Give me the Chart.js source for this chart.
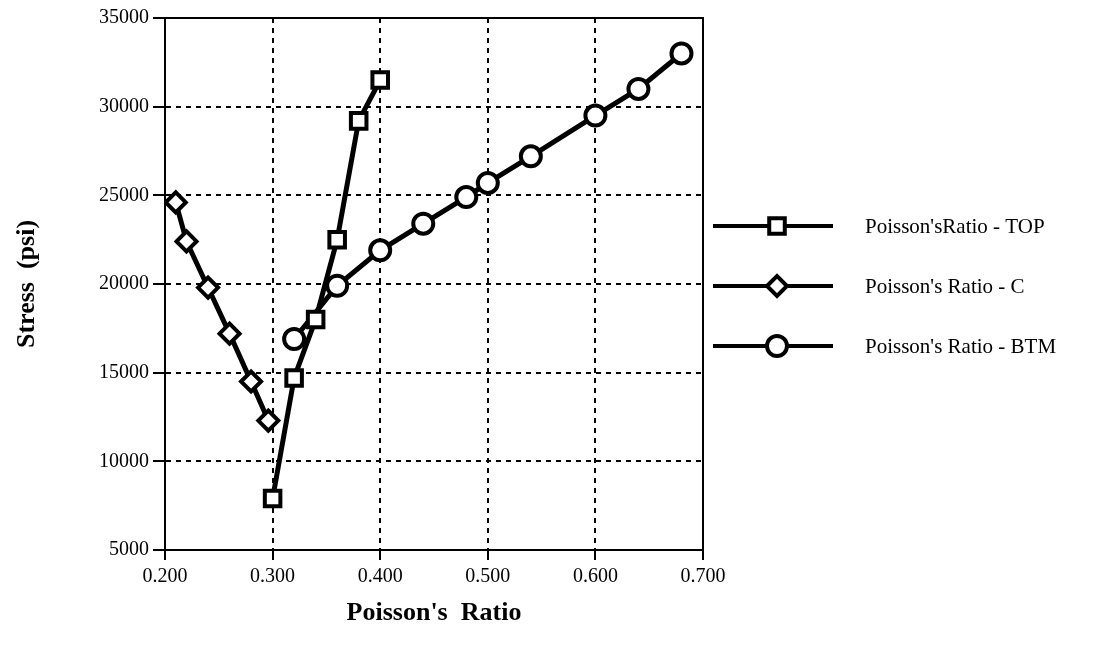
<!DOCTYPE html>
<html lang="en">
  <head>
    <meta charset="UTF-8" />
    <script src="https://cdn.jsdelivr.net/npm/chart.js@4.4.0/dist/chart.umd.min.js"></script>
    <title>Stress vs Poisson's Ratio</title>
    <style>
      body { margin: 0; background: #fff; }
      #wrap { width: 1104px; height: 653px; }
    </style>
  </head>
  <body>
    <div id="wrap"><canvas id="myChart"></canvas></div>

    <script>
      // values
      var topX = [0.300, 0.320, 0.340, 0.360, 0.380, 0.400];
      var topY = [7900, 14700, 18000, 22500, 29200, 31500];
      var cX = [0.210, 0.220, 0.240, 0.260, 0.280, 0.296];
      var cY = [24600, 22400, 19800, 17200, 14500, 12300];
      var btmX = [0.320, 0.360, 0.400, 0.440, 0.480, 0.500, 0.540, 0.600, 0.640, 0.680];
      var btmY = [16900, 19900, 21900, 23400, 24900, 25700, 27200, 29500, 31000, 33000];
      var seriesNames = ["Poisson'sRatio - TOP", "Poisson's Ratio - C", "Poisson's Ratio - BTM"];

      function pts(xs, ys) {
        return xs.map(function (x, i) { return { x: x, y: ys[i] }; });
      }

      var serif = "'Liberation Serif', 'DejaVu Serif', serif";

      // frame on top/right plus legend with line+marker samples
      var extras = {
        id: 'extras',
        afterDraw: function (chart) {
          var ctx = chart.ctx;
          var a = chart.chartArea;
          ctx.save();
          ctx.strokeStyle = '#000';
          ctx.lineWidth = 2;
          ctx.setLineDash([]);
          ctx.strokeRect(a.left, a.top, a.right - a.left, a.bottom - a.top);

          var rowY = [226, 286, 346];
          chart.data.datasets.forEach(function (ds, i) {
            var y = rowY[i];
            ctx.lineWidth = 4;
            ctx.strokeStyle = '#000';
            ctx.beginPath();
            ctx.moveTo(713, y);
            ctx.lineTo(833, y);
            ctx.stroke();
            ctx.fillStyle = '#fff';
            ctx.lineWidth = 4;
            Chart.helpers.drawPoint(ctx, {
              pointStyle: ds.pointStyle,
              radius: ds.pointRadius,
              rotation: 0,
              borderWidth: 4
            }, 777, y);
            ctx.fillStyle = '#000';
            ctx.font = '21px ' + serif;
            ctx.textBaseline = 'middle';
            ctx.textAlign = 'left';
            ctx.fillText(seriesNames[i], 865, y + 1);
          });
          ctx.restore();
        }
      };

      var common = {
        showLine: true,
        borderColor: '#000',
        backgroundColor: '#fff',
        borderWidth: 5,
        pointBorderWidth: 4,
        pointBackgroundColor: '#fff',
        pointBorderColor: '#000'
      };

      var ctx = document.getElementById('myChart').getContext('2d');
      var myChart = new Chart(ctx, {
        type: 'scatter',
        data: {
          datasets: [
            Object.assign({ label: seriesNames[0], data: pts(topX, topY), pointStyle: 'rect', pointRadius: 11 }, common),
            Object.assign({ label: seriesNames[1], data: pts(cX, cY), pointStyle: 'rectRot', pointRadius: 10 }, common),
            Object.assign({ label: seriesNames[2], data: pts(btmX, btmY), pointStyle: 'circle', pointRadius: 10 }, common)
          ]
        },
        options: {
          responsive: true,
          maintainAspectRatio: false,
          animation: false,
          layout: { padding: { top: 18, right: 401, left: 8, bottom: 0 } },
          plugins: { legend: { display: false }, tooltip: { enabled: false } },
          scales: {
            x: {
              type: 'linear',
              min: 0.2,
              max: 0.7,
              afterFit: function (s) { s.height = 103; },
              ticks: {
                stepSize: 0.1,
                color: '#000',
                padding: 5,
                font: { family: serif, size: 20 },
                callback: function (v) { return v.toFixed(3); }
              },
              grid: {
                color: '#000',
                lineWidth: 2,
                tickBorderDash: [],
                tickLength: 10,
                tickColor: '#000'
              },
              border: { display: true, color: '#000', width: 2, dash: [5, 5] },
              title: {
                display: true,
                text: "Poisson's  Ratio",
                color: '#000',
                padding: { top: 4, bottom: 24 },
                font: { family: serif, size: 26, weight: 'bold' }
              }
            },
            y: {
              min: 5000,
              max: 35000,
              afterFit: function (s) { s.width = 157; },
              ticks: {
                stepSize: 5000,
                color: '#000',
                padding: 4,
                font: { family: serif, size: 20 },
                callback: function (v) { return String(v); }
              },
              grid: {
                color: '#000',
                lineWidth: 2,
                tickBorderDash: [],
                tickLength: 12,
                tickColor: '#000'
              },
              border: { display: true, color: '#000', width: 2, dash: [5, 5] },
              title: {
                display: true,
                text: 'Stress  (psi)',
                color: '#000',
                padding: { bottom: 0 },
                font: { family: serif, size: 26, weight: 'bold' }
              }
            }
          }
        },
        plugins: [extras]
      });
    </script>
  </body>
</html>
